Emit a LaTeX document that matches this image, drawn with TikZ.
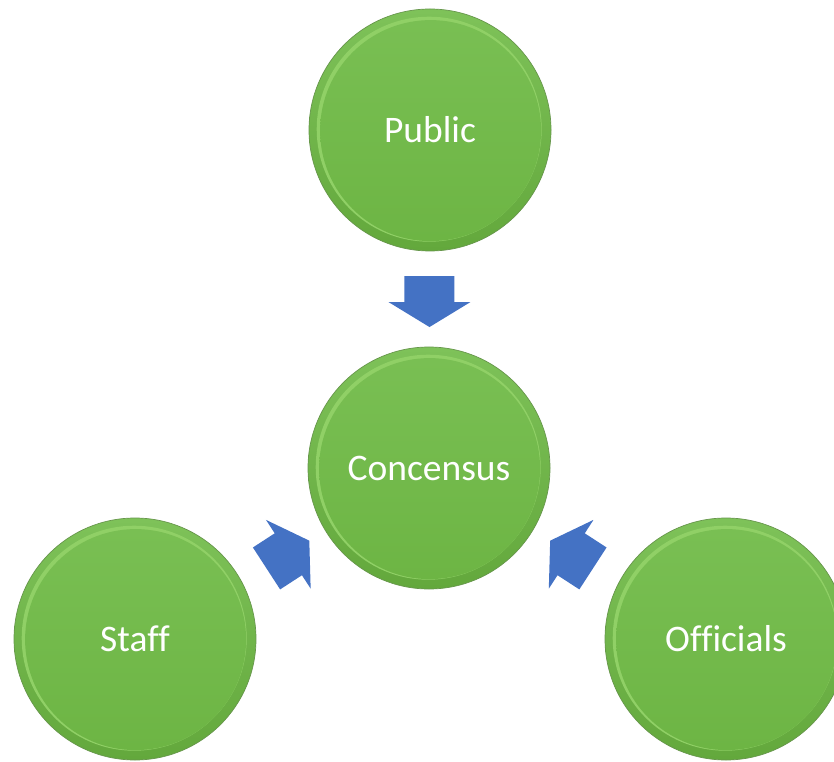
\documentclass[tikz,border=0pt]{standalone}
\usepackage{fontspec}
\setmainfont{Carlito}[Ligatures={NoCommon}]
\usetikzlibrary{calc}
\definecolor{gtop}{HTML}{7EC259}
\definecolor{gbot}{HTML}{63A83C}
\definecolor{gdark}{HTML}{67964C}
\definecolor{ghi}{HTML}{90D066}
\definecolor{gintop}{HTML}{79BF53}
\definecolor{ginbot}{HTML}{6DB544}
\definecolor{arrowblue}{HTML}{4472C4}
\tikzset{
  bubble/.style={circle, minimum size=242pt, inner sep=0pt,
    draw=gdark, line width=0.7pt, top color=gtop, bottom color=gbot,
    path picture={
      \fill[ghi] ([shift={(-0.8pt,0.8pt)}]path picture bounding box.center) circle (112.5pt);
      \shade[top color=gintop, bottom color=ginbot] ([shift={(0.6pt,-0.6pt)}]path picture bounding box.center) circle (110.5pt);
    },
    text=white, font=\fontsize{37.5}{45}\selectfont},
  blockarrow/.pic={\fill[arrowblue] (-26,-25) -- (0,-25) -- (0,-41) -- (25,0) -- (0,41) -- (0,25) -- (-26,25) -- cycle;}
}
\begin{document}
\begin{tikzpicture}[x=1pt,y=1pt]
\useasboundingbox (0,0) rectangle (834,761);
\node[bubble] (pub) at (430,631) {Public};
\node[bubble] (con) at (429,293) {Concensus};
\node[bubble] (staff) at (135,122) {Staff};
\node[bubble] (off) at (726,122) {Officials};
\pic[rotate=-90] at ($(pub)!0.509!(con)$) {blockarrow};
\pic[rotate=33] at ($(staff)!0.513!(con)+(2.5,-3)$) {blockarrow};
\pic[rotate=147] at ($(off)!0.513!(con)+(-2.5,-3)$) {blockarrow};
\end{tikzpicture}
\end{document}
